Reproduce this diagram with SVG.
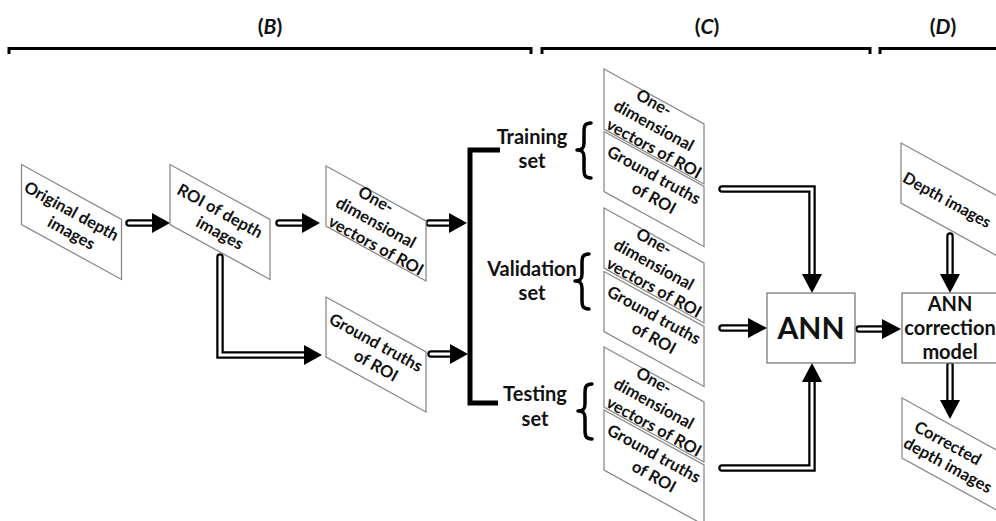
<svg xmlns="http://www.w3.org/2000/svg" width="996" height="521" viewBox="0 0 996 521">
<defs>
<style>
.para{fill:#fff;stroke:#8a8a8a;stroke-width:1.3}
.box{fill:#fff;stroke:#7a7a7a;stroke-width:1.3}
.t{font-family:Lato,"Open Sans","Liberation Sans",sans-serif;font-weight:bold;fill:#111;text-anchor:middle}
.pt{font-size:16.5px}
.lab{font-size:20px}
.big{font-size:30px}
.hdr{font-family:Lato,"Open Sans","Liberation Sans",sans-serif;font-size:21px;font-weight:bold;fill:#111;text-anchor:middle}
.so{fill:none;stroke:#000;stroke-width:7.5;stroke-linecap:round;stroke-linejoin:miter}
.si{fill:none;stroke:#fff;stroke-width:3;stroke-linecap:round;stroke-linejoin:miter}
.head{fill:#000}
.bus{fill:none;stroke:#000;stroke-width:5;stroke-linejoin:miter}
.brk{fill:none;stroke:#000;stroke-width:3}
.brace{fill:none;stroke:#000;stroke-width:3.5;stroke-linecap:round;stroke-linejoin:round}
</style>
<polygon id="para" points="-50,-57.5 50,-2.5 50,57.5 -50,2.5"/>
</defs>
<rect width="996" height="521" fill="#fff"/>

<g id="headers">
<path class="brk" d="M9,54 V48.5 H531 V54"/>
<path class="brk" d="M542,54 V48.5 H870 V54"/>
<path class="brk" d="M880,54 V48.5 H1000"/>
<text class="hdr" x="270" y="34">(<tspan font-style="italic">B</tspan>)</text>
<text class="hdr" x="707" y="34">(<tspan font-style="italic">C</tspan>)</text>
<text class="hdr" x="943" y="34">(<tspan font-style="italic">D</tspan>)</text>
</g>

<g id="connectors">
<path class="bus" d="M500,150 H470 V403 H498"/>
<path class="so" d="M129,223 H154"/><path class="si" d="M129,223 H154"/>
<polygon class="head" points="152,213 170,223 152,233"/>
<path class="so" d="M279,223 H304"/><path class="si" d="M279,223 H304"/>
<polygon class="head" points="302,213 320,223 302,233"/>
<path class="so" d="M429,223 H451"/><path class="si" d="M429,223 H451"/>
<polygon class="head" points="449,213 467,223 449,233"/>
<path class="so" d="M220,257 V355 H306"/><path class="si" d="M220,257 V355 H306"/>
<polygon class="head" points="304,345 322,355 304,365"/>
<path class="so" d="M431,354 H452"/><path class="si" d="M431,354 H452"/>
<polygon class="head" points="450,344 468,354 450,364"/>
<path class="so" d="M722,189 H812 V276"/><path class="si" d="M722,189 H812 V276"/>
<polygon class="head" points="802,274 812,293 822,274"/>
<path class="so" d="M722,328 H750"/><path class="si" d="M722,328 H750"/>
<polygon class="head" points="748,318 767,328 748,338"/>
<path class="so" d="M722,468 H812 V380"/><path class="si" d="M722,468 H812 V380"/>
<polygon class="head" points="802,382 812,363 822,382"/>
<path class="so" d="M859,329 H884"/><path class="si" d="M859,329 H884"/>
<polygon class="head" points="882,319 901,329 882,339"/>
<path class="so" d="M950,236 V276"/><path class="si" d="M950,236 V276"/>
<polygon class="head" points="940,274 950,293 960,274"/>
<path class="so" d="M950,365 V402"/><path class="si" d="M950,365 V402"/>
<polygon class="head" points="940,400 950,419 960,400"/>
</g>

<g id="original">
<use href="#para" class="para" transform="translate(71.5,222)"/>
<text class="t pt" transform="translate(71.5,211) rotate(28.8)" dy="0.35em">Original depth</text>
<text class="t pt" transform="translate(71.5,233) rotate(28.8)" dy="0.35em">images</text>
</g>

<g id="roi">
<use href="#para" class="para" transform="translate(220,222)"/>
<text class="t pt" transform="translate(220,211) rotate(28.8)" dy="0.35em">ROI of depth</text>
<text class="t pt" transform="translate(220,233) rotate(28.8)" dy="0.35em">images</text>
</g>

<g id="onedim">
<use href="#para" class="para" transform="translate(376,223.5)"/>
<text class="t pt" transform="translate(376,199.5) rotate(28.8)" dy="0.35em">One-</text>
<text class="t pt" transform="translate(376,222.5) rotate(28.8)" dy="0.35em">dimensional</text>
<text class="t pt" transform="translate(376,245.5) rotate(28.8)" dy="0.35em">vectors of ROI</text>
</g>

<g id="gt">
<use href="#para" class="para" transform="translate(376,354.5)"/>
<text class="t pt" transform="translate(376,342.5) rotate(28.8)" dy="0.35em">Ground truths</text>
<text class="t pt" transform="translate(376,365.5) rotate(28.8)" dy="0.35em">of ROI</text>
</g>

<g id="training">
<text class="t lab" x="532" y="144">Training</text>
<text class="t lab" x="532" y="168">set</text>
<path class="brace" d="M591,123 C584,123 584,127 584,133 L584,143 C584,148 582,150 577,150 C582,150 584,152 584,157 L584,168 C584,174 584,178 591,178"/>
</g>

<g id="validation">
<text class="t lab" x="532" y="276">Validation</text>
<text class="t lab" x="532" y="300">set</text>
<path class="brace" d="M589,254 C582,254 582,258 582,264 L582,274 C582,279 580,281 575,281 C580,281 582,283 582,288 L582,299 C582,305 582,309 589,309"/>
</g>

<g id="testing">
<text class="t lab" x="535" y="401">Testing</text>
<text class="t lab" x="535" y="426">set</text>
<path class="brace" d="M592,384 C585,384 585,388 585,394 L585,404 C585,409 583,411 578,411 C583,411 585,413 585,418 L585,429 C585,435 585,439 592,439"/>
</g>

<g id="train-onedim">
<use href="#para" class="para" transform="translate(654,126.5)"/>
<text class="t pt" transform="translate(654,102.5) rotate(28.8)" dy="0.35em">One-</text>
<text class="t pt" transform="translate(654,125.5) rotate(28.8)" dy="0.35em">dimensional</text>
<text class="t pt" transform="translate(654,148.5) rotate(28.8)" dy="0.35em">vectors of ROI</text>
</g>
<g id="train-gt">
<use href="#para" class="para" transform="translate(654,189)"/>
<text class="t pt" transform="translate(654,175) rotate(28.8)" dy="0.35em">Ground truths</text>
<text class="t pt" transform="translate(654,198) rotate(28.8)" dy="0.35em">of ROI</text>
</g>

<g id="val-onedim">
<use href="#para" class="para" transform="translate(654,265.5)"/>
<text class="t pt" transform="translate(654,241.5) rotate(28.8)" dy="0.35em">One-</text>
<text class="t pt" transform="translate(654,264.5) rotate(28.8)" dy="0.35em">dimensional</text>
<text class="t pt" transform="translate(654,287.5) rotate(28.8)" dy="0.35em">vectors of ROI</text>
</g>
<g id="val-gt">
<use href="#para" class="para" transform="translate(654,329)"/>
<text class="t pt" transform="translate(654,315) rotate(28.8)" dy="0.35em">Ground truths</text>
<text class="t pt" transform="translate(654,338) rotate(28.8)" dy="0.35em">of ROI</text>
</g>

<g id="test-onedim">
<use href="#para" class="para" transform="translate(654,404.5)"/>
<text class="t pt" transform="translate(654,380.5) rotate(28.8)" dy="0.35em">One-</text>
<text class="t pt" transform="translate(654,403.5) rotate(28.8)" dy="0.35em">dimensional</text>
<text class="t pt" transform="translate(654,426.5) rotate(28.8)" dy="0.35em">vectors of ROI</text>
</g>
<g id="test-gt">
<use href="#para" class="para" transform="translate(654,467.5)"/>
<text class="t pt" transform="translate(654,453.5) rotate(28.8)" dy="0.35em">Ground truths</text>
<text class="t pt" transform="translate(654,476.5) rotate(28.8)" dy="0.35em">of ROI</text>
</g>

<g id="ann">
<rect class="box" x="767" y="293" width="88" height="70"/>
<text class="t big" x="811" y="339">ANN</text>
</g>

<g id="model">
<rect class="box" x="902" y="293" width="100" height="70"/>
<text class="t lab" x="950" y="311">ANN</text>
<text class="t lab" x="950" y="335">correction</text>
<text class="t lab" x="950" y="359">model</text>
</g>

<g id="depth">
<use href="#para" class="para" transform="translate(951,200.5)"/>
<text class="t pt" transform="translate(947,200) rotate(28.8)" dy="0.35em" style="font-size:16px">Depth images</text>
</g>

<g id="corrected">
<use href="#para" class="para" transform="translate(952,455.5)"/>
<text class="t pt" transform="translate(948,443) rotate(28.8)" dy="0.35em">Corrected</text>
<text class="t pt" transform="translate(948,465) rotate(28.8)" dy="0.35em">depth images</text>
</g>
</svg>
